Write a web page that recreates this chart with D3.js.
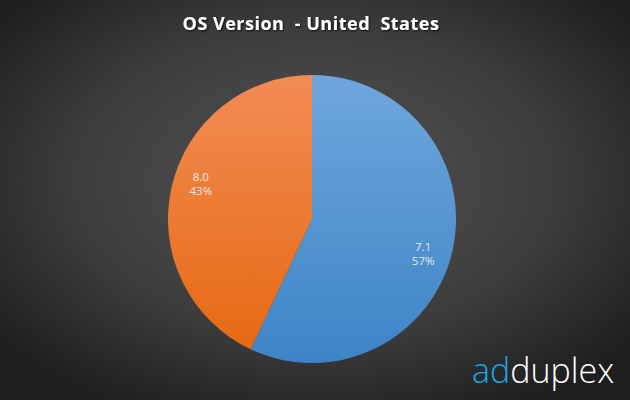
<!DOCTYPE html>
<html><head><meta charset="utf-8">
<script src="https://cdn.jsdelivr.net/npm/d3@7"></script>
<style>html,body{margin:0;padding:0;background:#333;}svg{display:block;}</style>
</head><body>
<svg id="c" width="630" height="400"></svg>
<script>
const categories = ["7.1", "8.0"];
const values = [57, 43];
const labels = ["57%", "43%"];
const title = "OS Version  - United  States";

const W = 630, H = 400;
const svg = d3.select("#c");
const defs = svg.append("defs");

const bg = defs.append("radialGradient").attr("id","bg")
  .attr("cx","50%").attr("cy","45%").attr("r","65%");
bg.append("stop").attr("offset","0%").attr("stop-color","#545454");
bg.append("stop").attr("offset","60%").attr("stop-color","#3c3c3c");
bg.append("stop").attr("offset","100%").attr("stop-color","#1e1e1e");
svg.append("rect").attr("width",W).attr("height",H).attr("fill","url(#bg)");

const cx = 312, cy = 219, r = 144;
const colors = [["#6fa7dd","#3d84c6"],["#f28c55","#e5680f"]];
colors.forEach((c,i)=>{
  const gr = defs.append("linearGradient").attr("id","g"+i)
    .attr("gradientUnits","userSpaceOnUse")
    .attr("x1",0).attr("y1",-r).attr("x2",0).attr("y2",r);
  gr.append("stop").attr("offset","0%").attr("stop-color",c[0]);
  gr.append("stop").attr("offset","100%").attr("stop-color",c[1]);
});

const shadow = defs.append("filter").attr("id","ts").attr("x","-10%").attr("y","-30%").attr("width","120%").attr("height","160%");
shadow.append("feDropShadow").attr("dx",1).attr("dy",1).attr("stdDeviation",1).attr("flood-color","#000").attr("flood-opacity",0.8);

const pie = d3.pie().sort(null).value(d=>d);
const arcs = pie(values);
const arc = d3.arc().innerRadius(0).outerRadius(r);
const g = svg.append("g").attr("transform",`translate(${cx},${cy})`);
g.selectAll("path").data(arcs).join("path")
  .attr("d",arc).attr("fill",(d,i)=>`url(#g${i})`);

const labelR = r*0.81, shift = 5*Math.PI/180;
const lg = g.selectAll("g.lbl").data(arcs).join("g").attr("class","lbl")
  .attr("transform",d=>{
    const a = (d.startAngle+d.endAngle)/2 + shift;
    return `translate(${labelR*Math.sin(a)},${-labelR*Math.cos(a)})`;
  });
lg.append("text").attr("text-anchor","middle").attr("y",-3)
  .attr("font-family","'Open Sans', sans-serif").attr("font-size",11.5).attr("fill","#e8e8e8")
  .text((d,i)=>categories[i]);
lg.append("text").attr("text-anchor","middle").attr("y",11)
  .attr("font-family","'Open Sans', sans-serif").attr("font-size",11.5).attr("fill","#e8e8e8")
  .text((d,i)=>labels[i]);

svg.append("text").attr("x",311).attr("y",30).attr("text-anchor","middle")
  .attr("font-family","'Open Sans', sans-serif").attr("font-weight","bold").attr("font-size",18)
  .attr("letter-spacing",0.5)
  .attr("fill","#ffffff").attr("filter","url(#ts)").attr("xml:space","preserve")
  .style("white-space","pre").text(title);

const logo = svg.append("text").attr("x",472).attr("y",383)
  .attr("font-family","'Open Sans', sans-serif").attr("font-weight",300).attr("font-size",34);
logo.append("tspan").attr("fill","#1ea5e6").text("ad");
logo.append("tspan").attr("fill","#ffffff").text("duplex");
</script>
</body></html>
